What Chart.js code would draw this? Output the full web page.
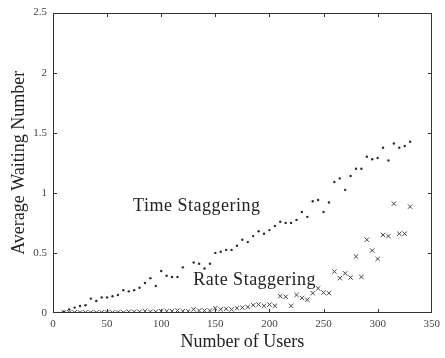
<!DOCTYPE html>
<html>
<head>
<meta charset="utf-8">
<script src="https://cdn.jsdelivr.net/npm/chart.js@4/dist/chart.umd.min.js"></script>
<style>
html,body{margin:0;padding:0;background:#fff;}
#wrap{width:445px;height:358px;position:relative;}
</style>
</head>
<body>
<div id="wrap"><canvas id="c" width="445" height="358"></canvas></div>
<script>
// ---- data ----
const users = [10,15,20,25,30,35,40,45,50,55,60,65,70,75,80,85,90,95,100,105,110,115,120,125,130,135,140,145,150,155,160,165,170,175,180,185,190,195,200,205,210,215,220,225,230,235,240,245,250,255,260,265,270,275,280,285,290,295,300,305,310,315,320,325,330];
const timeStaggering = [0.01,0.03,0.045,0.058,0.065,0.12,0.10,0.13,0.13,0.14,0.15,0.19,0.18,0.19,0.21,0.25,0.29,0.225,0.35,0.31,0.30,0.30,0.38,null,0.42,0.41,0.37,0.41,0.50,0.51,0.525,0.525,0.56,0.61,0.59,0.64,0.68,0.66,0.69,0.725,0.76,0.75,0.75,0.775,0.84,0.80,0.93,0.94,0.84,0.92,1.09,1.12,1.025,1.14,1.20,1.20,1.30,1.28,1.29,1.375,1.27,1.41,1.375,1.39,1.425];
const rateStaggering = [0.005,0.005,0.005,0.005,0.005,0.005,0.005,0.005,0.005,0.005,0.005,0.005,0.01,0.01,0.01,0.015,0.01,0.01,0.015,0.015,0.015,0.02,0.015,0.015,0.03,0.02,0.02,0.02,0.04,0.03,0.035,0.03,0.04,0.045,0.05,0.065,0.07,0.06,0.07,0.06,0.14,0.135,0.06,0.15,0.125,0.11,0.165,0.205,0.17,0.165,0.345,0.29,0.33,0.295,0.47,0.30,0.61,0.52,0.45,0.65,0.64,0.91,0.66,0.66,0.885];
const xTicks = [0,50,100,150,200,250,300,350];
const yTicks = [0,0.5,1,1.5,2,2.5];
const seriesNames = ['Time Staggering','Rate Staggering'];
const xTitle = 'Number of Users';
const yTitle = 'Average Waiting Number';

// annotation anchors (data units)
const labelAnchors = [
  {text: seriesNames[0], x: 74, y: 0.845},
  {text: seriesNames[1], x: 129.5, y: 0.233}
];

const toPts = (ys) => users.map((u,i)=>({x:u,y:ys[i]})).filter(p=>p.y!==null);

const SERIF = '"Liberation Serif","Times New Roman",serif';

const framePlugin = {
  id: 'frameBox',
  afterDraw(chart) {
    const ctx = chart.ctx;
    const a = chart.chartArea;
    const sx = chart.scales.x, sy = chart.scales.y;
    const L = Math.round(a.left), R = Math.round(a.right), T = Math.round(a.top), B = Math.round(a.bottom);
    ctx.save();
    ctx.fillStyle = '#333';
    ctx.fillRect(L, T, R-L, 1);
    ctx.fillRect(L, B-1, R-L, 1);
    ctx.fillRect(L, T, 1, B-T);
    ctx.fillRect(R-1, T, 1, B-T);
    const tl = 4;
    xTicks.forEach(v=>{
      const px = Math.round(sx.getPixelForValue(v));
      ctx.fillRect(Math.min(px, R-1), B-tl, 1, tl);
      ctx.fillRect(Math.min(px, R-1), T, 1, tl);
    });
    yTicks.forEach(v=>{
      const py = Math.round(sy.getPixelForValue(v));
      ctx.fillRect(L, Math.min(py, B-1), tl, 1);
      ctx.fillRect(R-tl, Math.min(py, B-1), tl, 1);
    });
    ctx.fillStyle = '#222';
    ctx.font = '18px ' + SERIF;
    try { ctx.letterSpacing = '0.5px'; } catch(e) {}
    ctx.textBaseline = 'alphabetic';
    ctx.textAlign = 'left';
    labelAnchors.forEach(l=>{
      ctx.fillText(l.text, sx.getPixelForValue(l.x), sy.getPixelForValue(l.y));
    });
    ctx.restore();
  }
};

new Chart(document.getElementById('c'), {
  type: 'scatter',
  data: {
    datasets: [
      {
        label: seriesNames[0],
        data: toPts(timeStaggering),
        pointStyle: 'circle',
        pointRadius: 1.2,
        backgroundColor: '#2a2a2a',
        borderColor: '#2a2a2a',
        borderWidth: 0
      },
      {
        label: seriesNames[1],
        data: toPts(rateStaggering),
        pointStyle: 'crossRot',
        pointRadius: 3.1,
        borderColor: '#444',
        backgroundColor: '#444',
        borderWidth: 1
      }
    ]
  },
  options: {
    responsive: false,
    animation: false,
    events: [],
    layout: {padding: {top: 10, right: 11, left: 0, bottom: 0}},
    plugins: {legend: {display: false}, tooltip: {enabled: false}},
    scales: {
      x: {
        type: 'linear', min: 0, max: 350,
        afterBuildTicks: (s)=>{ s.ticks = xTicks.map(v=>({value:v})); },
        afterFit: (s)=>{ s.height = 45; },
        grid: {display: false, drawTicks: false},
        border: {display: false},
        ticks: {color: '#444', font: {family: SERIF, size: 11}, padding: 5, callback: (v)=>String(v)},
        title: {display: true, text: xTitle, color: '#222', font: {family: SERIF, size: 18}, padding: {top: 2, bottom: 5}}
      },
      y: {
        type: 'linear', min: 0, max: 2.5,
        afterBuildTicks: (s)=>{ s.ticks = yTicks.map(v=>({value:v})); },
        afterFit: (s)=>{ s.width = 53; },
        grid: {display: false, drawTicks: false},
        border: {display: false},
        ticks: {color: '#444', font: {family: SERIF, size: 11}, padding: 6, callback: (v)=>String(v)},
        title: {display: true, text: yTitle, color: '#222', font: {family: SERIF, size: 18}, padding: {top: 8, bottom: 4}}
      }
    }
  },
  plugins: [framePlugin]
});
</script>
</body>
</html>
